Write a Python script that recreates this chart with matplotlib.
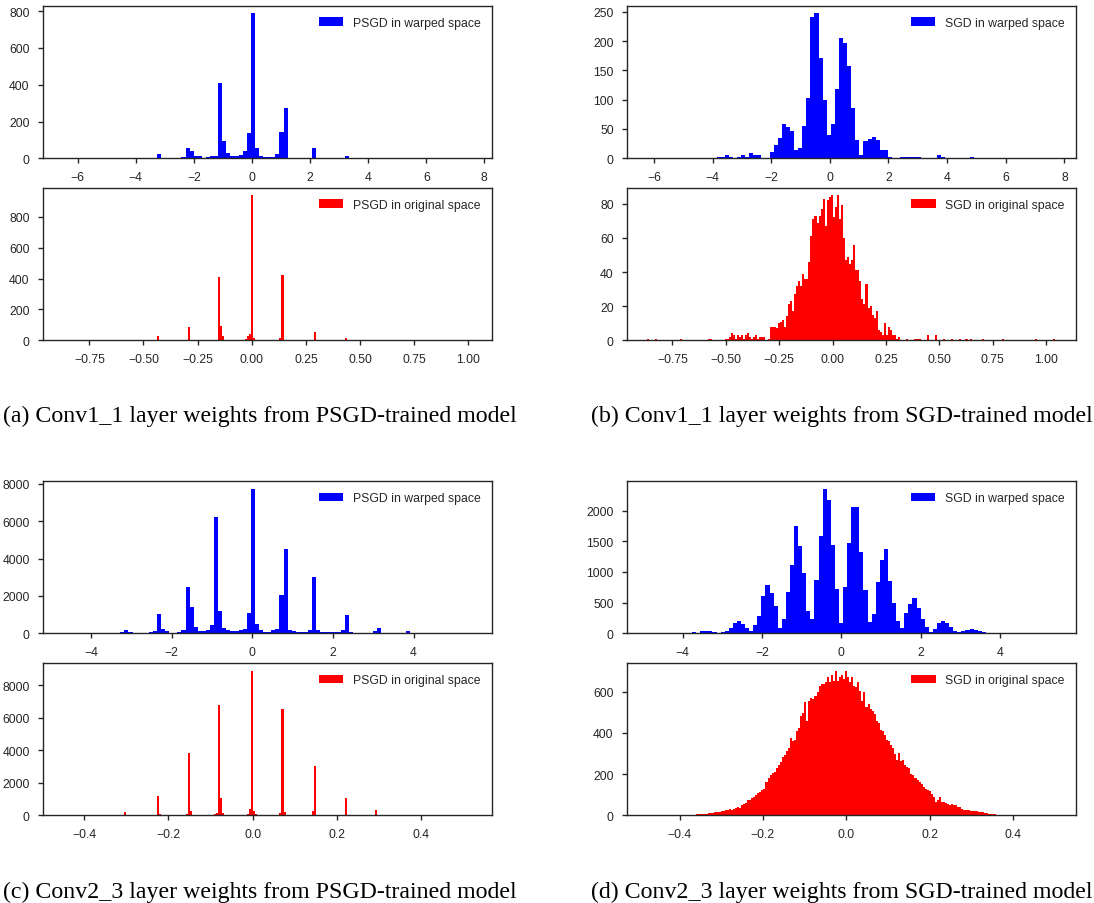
import numpy as np
import matplotlib
matplotlib.use("Agg")
import matplotlib.pyplot as plt

# ---------------- data (histogram bin counts) ----------------
# (a) Conv1_1, PSGD
a_warp_range = (-6.5, 7.55)
a_warp_counts = [
    1, 0, 1, 0, 0, 1, 0, 1, 0, 0,
    1, 0, 0, 1, 1, 0, 1, 1, 2, 1,
    2, 2, 3, 22, 2, 3, 2, 3, 3, 5,
    55, 40, 12, 10, 3, 5, 10, 15, 410, 93,
    30, 12, 10, 20, 40, 138, 790, 55, 15, 8,
    8, 8, 25, 144, 274, 3, 2, 2, 3, 2,
    3, 58, 2, 2, 1, 2, 1, 2, 3, 13,
    2, 1, 1, 2, 1, 1, 1, 0, 1, 1,
    0, 1, 0, 1, 0, 1, 0, 0, 1, 0,
    1, 0, 0, 1, 0, 0, 1, 0, 0, 1,
]
a_orig_range = (-0.871, 1.0135)
a_orig_counts = [
    1, 0, 0, 0, 0, 0, 0, 0, 0, 0, 0, 0, 0, 0, 0, 0, 0, 0, 0, 0,
    0, 0, 0, 0, 0, 0, 0, 0, 0, 0, 0, 0, 0, 0, 0, 0, 0, 0, 0, 0,
    0, 0, 0, 0, 0, 0, 26, 3, 0, 0, 0, 0, 0, 0, 0, 0, 0, 0, 0, 0,
    0, 84, 3, 0, 0, 0, 0, 0, 0, 0, 2, 0, 0, 0, 0, 3, 412, 95, 26, 3,
    0, 0, 0, 0, 0, 2, 0, 0, 4, 6, 25, 40, 940, 17, 5, 0, 0, 0, 0, 0,
    2, 0, 0, 0, 3, 5, 12, 423, 4, 0, 0, 0, 0, 0, 0, 0, 0, 0, 0, 0,
    0, 0, 3, 54, 2, 0, 0, 0, 0, 0, 0, 0, 0, 0, 0, 0, 0, 0, 13, 0,
    0, 0, 0, 0, 0, 0, 0, 0, 0, 0, 0, 0, 0, 2, 0, 0, 0, 0, 0, 0,
    0, 0, 0, 0, 0, 0, 0, 0, 0, 0, 0, 0, 0, 0, 0, 0, 0, 0, 0, 0,
    0, 0, 0, 0, 0, 0, 0, 0, 0, 0, 0, 0, 0, 0, 0, 0, 0, 0, 0, 1,
]

# (b) Conv1_1, SGD
b_warp_range = (-6.23, 7.69)
b_warp_counts = [
    1, 0, 0, 1, 0, 0, 1, 0, 0, 1,
    0, 0, 1, 0, 1, 0, 1, 2, 3, 6,
    3, 1, 3, 6, 3, 9, 5, 6, 1, 1,
    11, 22, 34, 59, 54, 47, 15, 18, 55, 103,
    241, 248, 172, 99, 40, 59, 119, 205, 196, 158,
    86, 31, 6, 29, 33, 37, 31, 14, 14, 3,
    1, 1, 3, 3, 3, 3, 3, 1, 1, 1,
    1, 5, 3, 1, 1, 0, 1, 1, 0, 3,
    1, 0, 1, 0, 1, 0, 1, 0, 0, 1,
    0, 1, 0, 0, 1, 0, 0, 1, 0, 1,
]
b_orig_range = (-0.868, 1.043)
b_orig_counts = [
    1, 0, 0, 0, 1, 0, 0, 0, 0, 0, 0, 0, 0, 0, 0, 0, 1, 0, 0, 0,
    0, 0, 0, 0, 0, 0, 0, 0, 0, 0, 1, 1, 0, 0, 0, 0, 0, 0, 1, 1,
    2, 4, 3, 1, 3, 2, 3, 1, 3, 4, 2, 1, 2, 3, 1, 2, 2, 2, 0, 1,
    8, 8, 8, 7, 10, 11, 12, 8, 14, 21, 23, 17, 27, 32, 35, 32, 39, 36, 36, 46,
    61, 71, 73, 69, 73, 77, 83, 67, 82, 84, 85, 72, 78, 85, 71, 79, 60, 47, 49, 45,
    47, 56, 41, 41, 35, 24, 21, 33, 19, 20, 15, 13, 17, 6, 5, 3, 10, 3, 8, 6,
    3, 3, 1, 2, 0, 0, 0, 1, 0, 0, 0, 1, 1, 1, 0, 0, 0, 3, 0, 0,
    0, 3, 0, 0, 0, 1, 0, 0, 0, 1, 0, 0, 0, 1, 0, 0, 1, 0, 1, 0,
    0, 0, 0, 0, 1, 0, 0, 0, 0, 0, 0, 0, 0, 0, 1, 0, 0, 0, 0, 0,
    0, 0, 0, 0, 0, 0, 0, 0, 0, 0, 1, 0, 0, 0, 0, 0, 0, 0, 0, 1,
]

# (c) Conv2_3, PSGD
c_warp_range = (-4.69, 5.43)
c_warp_counts = [
    5, 0, 3, 5, 8, 10, 15, 25, 30, 30,
    25, 20, 20, 30, 60, 200, 90, 40, 40, 40,
    40, 60, 100, 1020, 215, 110, 40, 40, 70, 160,
    2475, 1420, 320, 125, 100, 180, 450, 6240, 1185, 290,
    160, 125, 110, 150, 240, 1110, 7750, 510, 160, 90,
    60, 160, 240, 2050, 4520, 170, 110, 60, 60, 70,
    200, 3020, 170, 60, 50, 50, 50, 50, 170, 980,
    60, 30, 30, 30, 30, 30, 120, 290, 30, 20,
    20, 20, 20, 20, 110, 40, 15, 10, 10, 10,
    15, 10, 5, 5, 5, 3, 3, 2, 0, 1,
]
c_orig_range = (-0.4496, 0.519)
c_orig_counts = [
    1, 0, 0, 0, 0, 0, 0, 0, 0, 0, 0, 0, 0, 0, 0, 0, 0, 0, 0, 0,
    0, 0, 0, 0, 0, 0, 0, 0, 0, 0, 200, 20, 0, 0, 0, 0, 0, 0, 0, 0,
    0, 0, 0, 0, 0, 30, 1190, 60, 0, 0, 0, 0, 0, 0, 0, 0, 0, 0, 0, 40,
    60, 3860, 290, 20, 0, 0, 0, 0, 0, 0, 0, 0, 0, 40, 60, 120, 6810, 1070, 120, 20,
    0, 0, 0, 0, 0, 0, 0, 0, 0, 40, 100, 390, 8920, 250, 60, 0, 0, 0, 0, 0,
    0, 0, 0, 0, 0, 40, 120, 6580, 180, 20, 0, 0, 0, 0, 0, 0, 0, 0, 0, 0,
    0, 40, 290, 3060, 40, 0, 0, 0, 0, 0, 0, 0, 0, 0, 0, 0, 0, 30, 1070, 20,
    0, 0, 0, 0, 0, 0, 0, 0, 0, 0, 0, 0, 30, 350, 0, 0, 0, 0, 0, 0,
    0, 0, 0, 0, 0, 0, 0, 0, 0, 20, 0, 0, 0, 0, 0, 0, 0, 0, 0, 0,
    0, 0, 0, 0, 0, 0, 0, 0, 0, 0, 0, 0, 0, 0, 0, 0, 0, 0, 0, 1,
]

# (d) Conv2_3, SGD
d_warp_range = (-4.9, 5.40)
d_warp_counts = [
    2, 1, 2, 3, 3, 5, 5, 8, 8, 10,
    10, 15, 10, 38, 30, 45, 20, 10, 15, 30,
    85, 165, 195, 150, 90, 45, 135, 280, 600, 780,
    660, 440, 90, 240, 675, 1120, 1745, 1430, 980, 370,
    225, 870, 1580, 2360, 2165, 1435, 725, 165, 750, 1480,
    2065, 2055, 1325, 705, 180, 310, 830, 1195, 1370, 845,
    500, 200, 85, 325, 480, 575, 410, 240, 100, 25,
    75, 165, 195, 165, 100, 45, 25, 30, 60, 75,
    60, 40, 15, 8, 5, 5, 3, 3, 2, 2,
    1, 2, 1, 1, 1, 0, 1, 0, 0, 1,
]
d_orig_range = (-0.478, 0.502)
d_orig_counts = [
    1, 0, 0, 0, 0, 1, 0, 0, 0, 0, 1, 0, 0, 0, 1, 0, 0, 1, 0, 2,
    2, 3, 2, 3, 4, 5, 5, 5, 6, 8, 10, 10, 12, 14, 18, 16, 20, 22, 25, 25,
    30, 28, 32, 34, 38, 36, 52, 55, 60, 72, 75, 82, 90, 98, 110, 115, 125, 130, 160, 180,
    195, 205, 210, 230, 244, 260, 285, 293, 310, 326, 375, 360, 365, 408, 425, 482, 495, 548, 457, 556,
    572, 565, 580, 597, 630, 638, 640, 646, 670, 646, 679, 654, 703, 654, 670, 679, 662, 703, 670, 646,
    670, 630, 621, 646, 605, 556, 597, 526, 539, 515, 507, 490, 457, 449, 416, 408, 392, 367, 362, 339,
    326, 297, 269, 302, 264, 269, 244, 236, 228, 202, 195, 179, 170, 162, 154, 138, 126, 121, 116, 105,
    88, 67, 72, 88, 64, 67, 61, 56, 51, 56, 48, 48, 39, 39, 31, 28, 25, 25, 23, 23,
    21, 20, 18, 15, 15, 11, 11, 8, 6, 5, 4, 3, 2, 2, 1, 1, 0, 0, 1, 0,
    0, 0, 0, 0, 0, 0, 0, 0, 0, 0, 0, 0, 0, 0, 0, 0, 0, 0, 0, 1,
]

warp_labels = ["PSGD in warped space", "SGD in warped space"]
orig_labels = ["PSGD in original space", "SGD in original space"]
captions = [
    "(a) Conv1_1 layer weights from PSGD-trained model",
    "(b) Conv1_1 layer weights from SGD-trained model",
    "(c) Conv2_3 layer weights from PSGD-trained model",
    "(d) Conv2_3 layer weights from SGD-trained model",
]

# ---------------- style ----------------
plt.rcParams.update({
    "font.family": ["Liberation Sans", "DejaVu Sans"],
    "font.size": 9.6,
    "text.color": "#262626",
    "axes.edgecolor": "#262626",
    "axes.linewidth": 1.0,
    "axes.labelcolor": "#262626",
    "xtick.color": "#262626",
    "ytick.color": "#262626",
    "xtick.labelsize": 8.8,
    "ytick.labelsize": 8.8,
    "xtick.major.size": 3.8,
    "ytick.major.size": 3.8,
    "xtick.major.width": 1.0,
    "ytick.major.width": 1.0,
    "xtick.major.pad": 5.6,
    "ytick.major.pad": 5.6,
    "xtick.direction": "out",
    "ytick.direction": "out",
    "legend.fontsize": 8.8,
    "legend.frameon": False,
    "axes.unicode_minus": True,
})

W, H = 1094, 904
fig = plt.figure(figsize=(W / 100, H / 100), dpi=100)

col_left_px = [42.7, 626.7]
col_w_px = 449.0
row_px = [(6.7, 159.3), (189.0, 341.3), (482.3, 634.3), (664.3, 816.3)]


def make_ax(row, col):
    top, bot = row_px[row]
    return fig.add_axes([col_left_px[col] / W, 1 - bot / H,
                         col_w_px / W, (bot - top) / H])


def draw(ax, rng, counts, color, label):
    counts = np.asarray(counts, dtype=float)
    edges = np.linspace(rng[0], rng[1], len(counts) + 1)
    ax.hist(edges[:-1], bins=edges, weights=counts, histtype="stepfilled",
            color=color, linewidth=0, label=label)
    ax.legend(loc="upper right", handlelength=2.0)


panels = [
    (0, 0, a_warp_range, a_warp_counts, "#0000ff", warp_labels[0]),
    (1, 0, a_orig_range, a_orig_counts, "#ff0000", orig_labels[0]),
    (0, 1, b_warp_range, b_warp_counts, "#0000ff", warp_labels[1]),
    (1, 1, b_orig_range, b_orig_counts, "#ff0000", orig_labels[1]),
    (2, 0, c_warp_range, c_warp_counts, "#0000ff", warp_labels[0]),
    (3, 0, c_orig_range, c_orig_counts, "#ff0000", orig_labels[0]),
    (2, 1, d_warp_range, d_warp_counts, "#0000ff", warp_labels[1]),
    (3, 1, d_orig_range, d_orig_counts, "#ff0000", orig_labels[1]),
]
for row, col, rng, counts, color, label in panels:
    ax = make_ax(row, col)
    draw(ax, rng, counts, color, label)

cap_x_px = [259.5, 842.0]
cap_base_px = [422.0, 897.6]
for i, text in enumerate(captions):
    fig.text(cap_x_px[i % 2] / W, 1 - cap_base_px[i // 2] / H, text,
             ha="center", va="baseline", fontsize=17.2,
             family="Liberation Serif", color="black")

fig.savefig("out.png", dpi=100)
